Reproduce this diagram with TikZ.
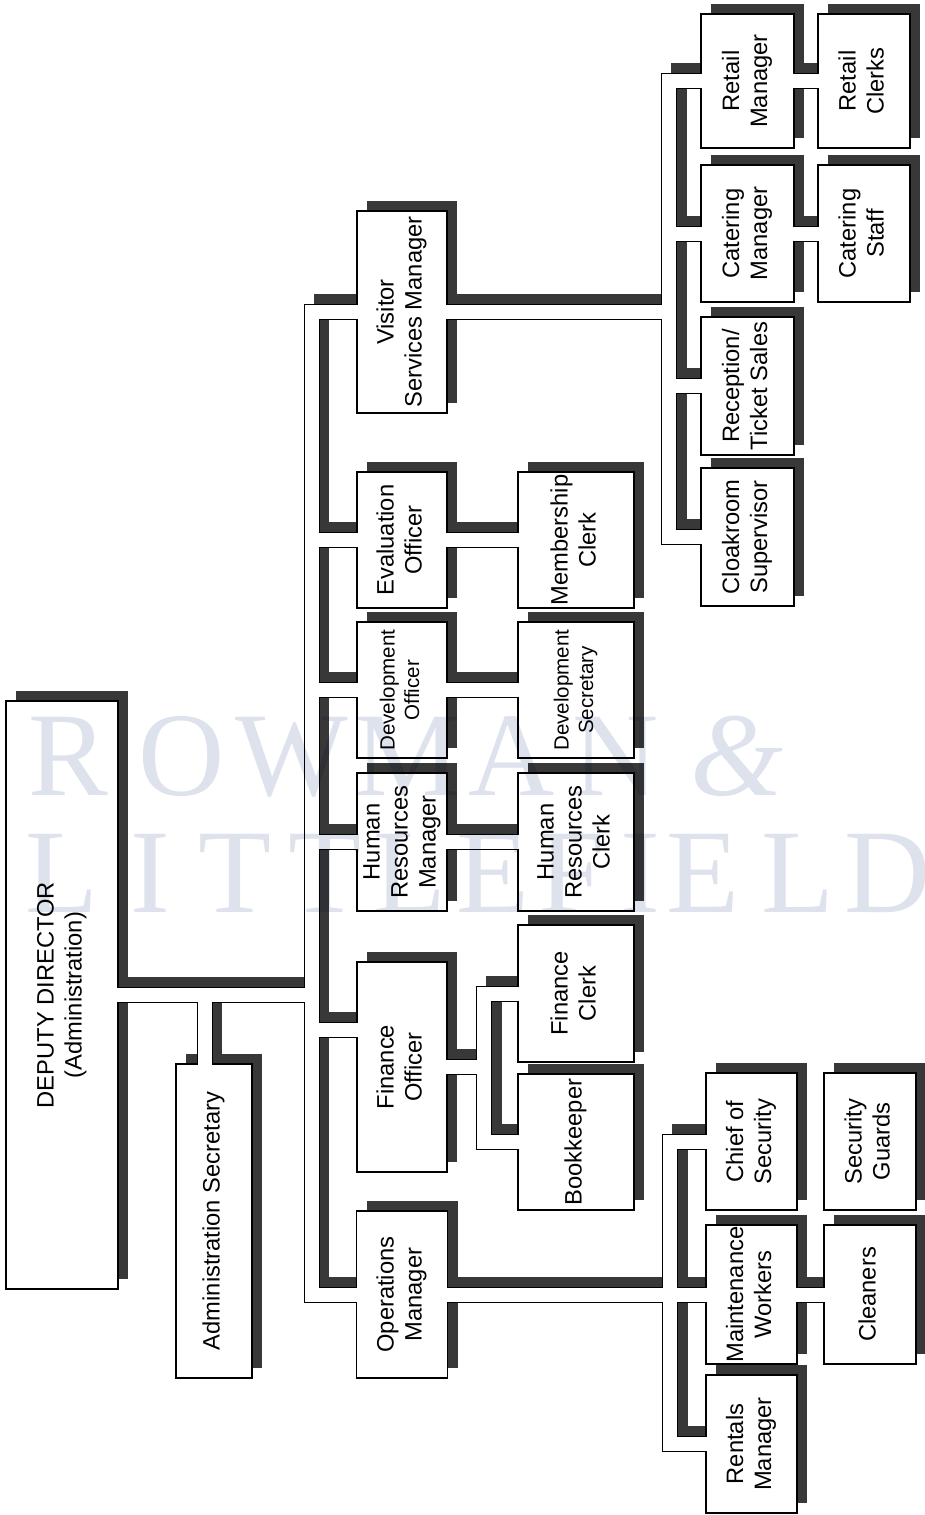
\documentclass[tikz,border=0pt]{standalone}
\usepackage{fontspec}
\usepackage{graphicx}
\setmainfont{Liberation Sans}
\newfontfamily\wmfont{Liberation Serif}

\definecolor{shadowc}{gray}{0.22}
\definecolor{wmc}{RGB}{222,226,237}

\pgfdeclarelayer{shadow}
\pgfdeclarelayer{outline}
\pgfdeclarelayer{front}
\pgfsetlayers{shadow,outline,main,front}

\newcommand{\lbl}[1]{\rotatebox{90}{\begin{tabular}{@{}c@{}}#1\end{tabular}}}

\begin{document}
\begin{tikzpicture}[x=0.02cm,y=-0.02cm,
	box/.style 2 args={draw,fill=white,line width=0.6pt,inner sep=0pt,outer sep=0pt,
		minimum width=#1*0.02cm,minimum height=#2*0.02cm,font=\fontsize{13.5}{16}\selectfont},
	smalltext/.style={font=\fontsize{11.7}{14}\selectfont},
	wire shadow/.style={draw=shadowc,line width=0.32cm,line join=miter},
	wire edge/.style={draw=black,line width=0.32cm,line join=miter},
	wire/.style={draw=white,line width=0.28cm,line join=miter,shorten <=-1pt,shorten >=-1pt},
	wmark/.style={text=wmc,inner sep=0pt,anchor=base,font=\wmfont\fontsize{68}{68}\selectfont}]
	\useasboundingbox (0,0) rectangle (924,1515);
	\def\colA{402}	%officers
	\def\colB{576}	%clerks
	\def\colC{747.5}	%visitor staff
	\def\colD{864}
	\def\colE{751.5}	%operations staff
	\def\colF{870}
	
	%TOP
	\node[box={112}{588}] (dd) at (62,995) {\lbl{DEPUTY DIRECTOR\\(Administration)}};
	\node[box={76}{314}] (as) at (214,1221) {\lbl{Administration Secretary}};
	
	%OFFICERS
	\node[box={90}{202}] (vsm) at (\colA,312) {\lbl{Visitor\\Services Manager}};
	\node[box={90}{136}] (eo) at (\colA,540) {\lbl{Evaluation\\Officer}};
	\node[box={90}{136},smalltext] (do) at (\colA,690) {\lbl{Development\\Officer}};
	\node[box={90}{138}] (hrm) at (\colA,842) {\lbl{Human\\Resources\\Manager}};
	\node[box={90}{210}] (fo) at (\colA,1067) {\lbl{Finance\\Officer}};
	\node[box={91}{167}] (ops) at (\colA,1294.5) {\lbl{Operations\\Manager}};
	
	%CLERKS
	\node[box={116}{136}] (mc) at (\colB,540) {\lbl{Membership\\Clerk}};
	\node[box={116}{136},smalltext] (ds) at (\colB,690) {\lbl{Development\\Secretary}};
	\node[box={116}{138}] (hrc) at (\colB,842) {\lbl{Human\\Resources\\Clerk}};
	\node[box={116}{137}] (fc) at (\colB,993.5) {\lbl{Finance\\Clerk}};
	\node[box={116}{136}] (bk) at (\colB,1142) {\lbl{Bookkeeper}};
	
	%VISITOR SERVICES
	\node[box={93}{134}] (rm) at (\colC,81) {\lbl{Retail\\Manager}};
	\node[box={93}{137}] (cm) at (\colC,233.5) {\lbl{Catering\\Manager}};
	\node[box={93}{138}] (rts) at (\colC,386) {\lbl{Reception/\\Ticket Sales}};
	\node[box={93}{138}] (cs) at (\colC,537) {\lbl{Cloakroom\\Supervisor}};
	\node[box={92}{134}] (rc) at (\colD,81) {\lbl{Retail\\Clerks}};
	\node[box={92}{137}] (cst) at (\colD,233.5) {\lbl{Catering\\Staff}};
	
	%OPERATIONS
	\node[box={91}{137}] (chs) at (\colE,1141.5) {\lbl{Chief of\\Security}};
	\node[box={91}{139}] (mw) at (\colE,1294.5) {\lbl{Maintenance\\Workers}};
	\node[box={91}{138}] (rnt) at (\colE,1444) {\lbl{Rentals\\Manager}};
	\node[box={92}{137}] (sg) at (\colF,1141.5) {\lbl{Security\\Guards}};
	\node[box={92}{139}] (cl) at (\colF,1294.5) {\lbl{Cleaners}};
	
	%JUNCTIONS
	\coordinate (trunk) at (311.5,0);
	\coordinate (aj) at (204.5,0);
	\coordinate (fb) at (0,1029.5);
	\coordinate (fj) at (483.5,0);
	\coordinate (vj) at (669,0);
	\coordinate (oj) at (669.5,0);
	
	%CONNECTORS (drawn three times: shadow, edge, white)
	\def\links#1{
		\draw[#1] (vsm.west) -- (vsm.west -| trunk) -- (ops.west -| trunk) -- (ops.west);
		\draw[#1] (dd.east) -- (dd.east -| trunk);
		\draw[#1] (aj |- dd.east) -- (aj |- as.north);
		\draw[#1] (fb -| trunk) -- (fb -| fo.west);
		\foreach \a/\b in {eo/mc,do/ds,hrm/hrc}{
			\draw[#1] (\a.west -| trunk) -- (\a.west);
			\draw[#1] (\a.east) -- (\b.west);
		}
		\draw[#1] (fo.east) -- (fo.east -| fj);
		\draw[#1] (fc.west) -- (fc.west -| fj) -- (bk.west -| fj) -- (bk.west);
		%
		\draw[#1] (vsm.east) -- (vsm.east -| vj);
		\draw[#1] (rm.west) -- (rm.west -| vj) -- (cs.west -| vj) -- (cs.west);
		\draw[#1] (cm.west -| vj) -- (cm.west);
		\draw[#1] (rts.west -| vj) -- (rts.west);
		\draw[#1] (rm.east) -- (rc.west);
		\draw[#1] (cm.east) -- (cst.west);
		%
		\draw[#1] (ops.east) -- (mw.west);
		\draw[#1] (chs.west) -- (chs.west -| oj) -- (rnt.west -| oj) -- (rnt.west);
		\draw[#1] (mw.east) -- (cl.west);
	}
	
	%SHADOWS
	\begin{pgfonlayer}{shadow}
		\begin{scope}[transform canvas={shift={(0.2cm,0.2cm)}}]
			\foreach \n in {dd,as,vsm,eo,do,hrm,fo,ops,mc,ds,hrc,fc,bk,rm,cm,rts,cs,rc,cst,chs,mw,rnt,sg,cl}
				\fill[shadowc] (\n.south west) rectangle (\n.north east);
			\links{wire shadow}
		\end{scope}
	\end{pgfonlayer}
	\begin{pgfonlayer}{outline}
		\links{wire edge}
	\end{pgfonlayer}
	\begin{pgfonlayer}{front}
		\links{wire}
		
		%WATERMARK
		\begin{scope}[blend mode=multiply]
			\foreach \c/\x in {R/68,O/182,W/292,M/408,A/512,N/616}
				\node[wmark] (wm\c) at (\x,795) {\c};
			\node[wmark] (wmamp) at (737,795) {\itshape\&};
			\foreach \c/\x [count=\i] in {L/62,I/150,T/235,T/325,L/410,E/493,F/572,I/640,E/703,L/798,D/888}
				\node[wmark] (wml\i) at (\x,912) {\c};
		\end{scope}
	\end{pgfonlayer}
\end{tikzpicture}
\end{document}
